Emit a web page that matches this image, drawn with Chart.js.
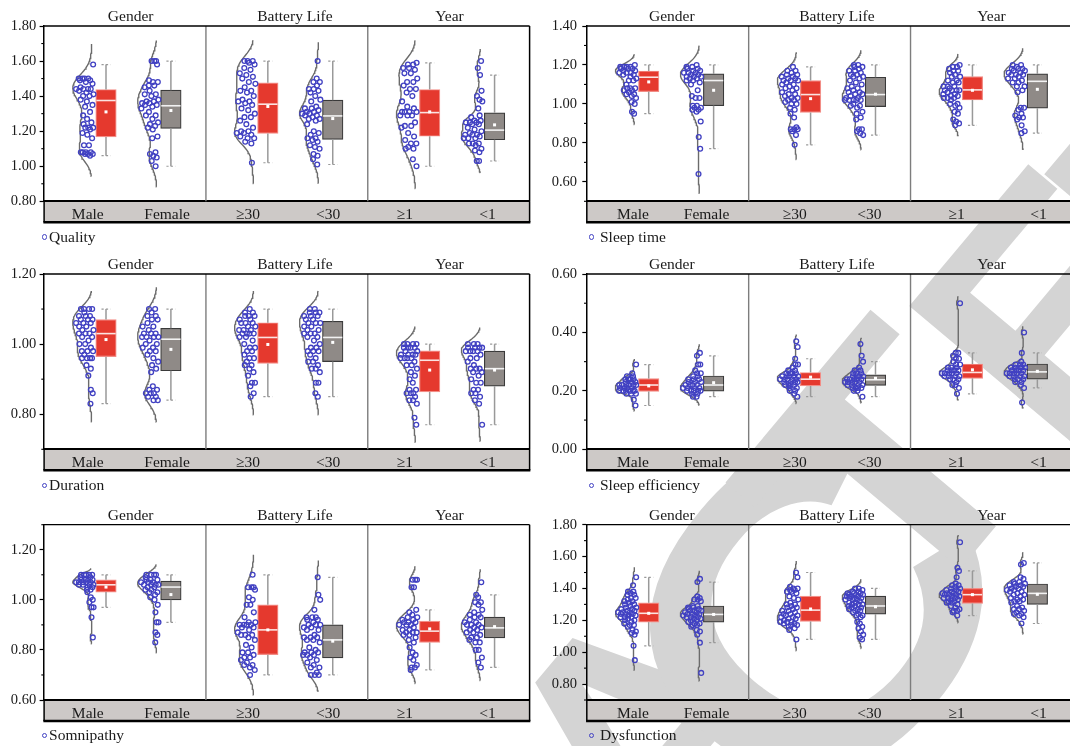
<!DOCTYPE html>
<html><head><meta charset="utf-8">
<script src="https://cdn.jsdelivr.net/npm/chart.js@4.4.0/dist/chart.umd.min.js"></script>
<style>
html,body{margin:0;padding:0;background:#fff;}
body{width:1070px;height:746px;overflow:hidden;position:relative;font-family:'Liberation Serif','Times New Roman',serif;}
canvas{position:absolute;}
.lg{position:absolute;font-size:15.5px;color:#1a1a1a;white-space:nowrap;line-height:18px;height:18px;}
.lg i{display:inline-block;width:3.6px;height:3.6px;border:1.3px solid #4141c2;border-radius:50%;vertical-align:middle;margin-right:2px;position:relative;top:-1px;}
#wm{position:absolute;left:0;top:0;width:1070px;height:746px;overflow:hidden;}
#wm span{position:absolute;font-family:'Liberation Sans','Arial',sans-serif;font-weight:bold;color:#d4d4d4;line-height:1;white-space:nowrap;}
</style></head><body>
<div id="wm"></div>
<script>
// ---------------- DATA ----------------
const GROUPS = ['Gender', 'Battery Life', 'Year'];
const CATEGORIES = ['Male', 'Female', '≥30', '<30', '≥1', '<1'];
const METRICS = ['Quality', 'Sleep time', 'Duration', 'Sleep efficiency', 'Somnipathy', 'Dysfunction'];
const Y_MIN = [0.8, 0.5, 0.7, 0.0, 0.6, 0.7];
const Y_MAX = [1.8, 1.4, 1.2, 0.6, 1.3, 1.8];

const QUALITY_POINTS = [
 [1.58,1.50,1.50,1.50,1.50,1.49,1.49,1.48,1.47,1.45,1.44,1.44,1.44,1.44,1.43,1.42,1.41,1.40,1.40,1.38,1.37,1.35,1.34,1.31,1.29,1.27,1.25,1.24,1.22,1.22,1.22,1.21,1.19,1.18,1.16,1.12,1.12,1.08,1.08,1.08,1.08,1.07,1.07,1.07,1.06],
 [1.60,1.60,1.60,1.58,1.49,1.48,1.48,1.46,1.46,1.45,1.43,1.41,1.41,1.40,1.38,1.37,1.37,1.36,1.36,1.35,1.35,1.34,1.33,1.31,1.29,1.29,1.27,1.25,1.24,1.23,1.22,1.21,1.17,1.16,1.08,1.07,1.06,1.05,1.03,1.00],
 [1.60,1.60,1.60,1.59,1.58,1.56,1.55,1.53,1.52,1.51,1.50,1.48,1.47,1.45,1.43,1.43,1.42,1.40,1.38,1.37,1.37,1.36,1.35,1.33,1.32,1.30,1.28,1.28,1.26,1.24,1.22,1.20,1.20,1.19,1.19,1.18,1.17,1.16,1.16,1.14,1.13,1.02],
 [1.60,1.50,1.48,1.48,1.46,1.44,1.44,1.43,1.42,1.40,1.38,1.37,1.34,1.33,1.33,1.32,1.31,1.31,1.30,1.30,1.29,1.29,1.28,1.27,1.27,1.26,1.24,1.20,1.19,1.18,1.16,1.16,1.15,1.14,1.12,1.11,1.10,1.07,1.06,1.04,1.01],
 [1.59,1.58,1.58,1.56,1.56,1.55,1.53,1.53,1.50,1.48,1.48,1.46,1.44,1.44,1.42,1.40,1.37,1.34,1.33,1.31,1.31,1.31,1.31,1.29,1.29,1.29,1.25,1.23,1.23,1.22,1.19,1.17,1.15,1.13,1.13,1.11,1.10,1.10,1.04,1.00],
 [1.60,1.56,1.52,1.43,1.40,1.38,1.37,1.33,1.29,1.28,1.26,1.26,1.25,1.25,1.25,1.24,1.24,1.22,1.21,1.20,1.19,1.18,1.18,1.18,1.17,1.16,1.16,1.16,1.13,1.13,1.13,1.12,1.10,1.09,1.08,1.03,1.03]
];
// [lower whisker, Q1, median, Q3, upper whisker, mean]
const QUALITY_BOX = [
 [1.06,1.167,1.375,1.438,1.58,1.310],
 [1.00,1.216,1.345,1.434,1.60,1.318],
 [1.02,1.187,1.354,1.476,1.60,1.341],
 [1.01,1.153,1.287,1.377,1.60,1.272],
 [1.00,1.171,1.306,1.438,1.59,1.310],
 [1.03,1.151,1.206,1.305,1.52,1.236]
];

const SLEEP_TIME_POINTS = [
 [1.20,1.19,1.19,1.19,1.19,1.18,1.18,1.18,1.17,1.17,1.16,1.16,1.16,1.15,1.15,1.14,1.13,1.12,1.12,1.10,1.08,1.08,1.08,1.07,1.07,1.06,1.05,1.05,1.04,1.03,1.01,1.00,0.96,0.95],
 [1.20,1.19,1.19,1.18,1.18,1.17,1.17,1.16,1.16,1.16,1.15,1.15,1.14,1.14,1.14,1.13,1.13,1.12,1.12,1.11,1.10,1.07,1.04,1.03,1.03,0.99,0.99,0.98,0.98,0.97,0.97,0.96,0.91,0.83,0.77,0.64],
 [1.19,1.17,1.17,1.16,1.15,1.15,1.14,1.14,1.13,1.13,1.12,1.12,1.12,1.11,1.10,1.10,1.09,1.08,1.08,1.07,1.06,1.05,1.05,1.04,1.03,1.03,1.02,1.02,1.01,1.00,1.00,0.98,0.97,0.95,0.93,0.88,0.87,0.87,0.87,0.86,0.84,0.79],
 [1.20,1.20,1.19,1.19,1.18,1.17,1.17,1.16,1.15,1.15,1.14,1.14,1.13,1.12,1.11,1.10,1.09,1.08,1.08,1.07,1.06,1.06,1.05,1.05,1.04,1.03,1.03,1.02,1.02,1.02,1.02,1.02,1.00,0.99,0.99,0.98,0.96,0.95,0.93,0.92,0.87,0.87,0.86,0.85,0.84],
 [1.20,1.19,1.19,1.18,1.17,1.17,1.16,1.15,1.14,1.14,1.12,1.12,1.11,1.11,1.09,1.09,1.09,1.08,1.07,1.07,1.07,1.07,1.06,1.05,1.05,1.04,1.04,1.03,1.03,1.03,1.02,1.00,1.00,0.99,0.98,0.96,0.95,0.92,0.91,0.90,0.89],
 [1.20,1.20,1.19,1.18,1.18,1.18,1.17,1.17,1.16,1.16,1.15,1.15,1.15,1.14,1.13,1.13,1.12,1.11,1.11,1.09,1.09,1.07,1.06,0.98,0.98,0.97,0.95,0.94,0.93,0.93,0.92,0.89,0.86,0.85]
];
const SLEEP_TIME_BOX = [
 [0.95,1.063,1.137,1.169,1.20,1.113],
 [0.77,0.991,1.120,1.154,1.20,1.070],
 [0.79,0.956,1.048,1.120,1.19,1.027],
 [0.84,0.986,1.048,1.137,1.20,1.050],
 [0.89,1.020,1.072,1.140,1.20,1.070],
 [0.85,0.978,1.116,1.154,1.20,1.075]
];

const DURATION_POINTS = [
 [1.10,1.10,1.10,1.10,1.09,1.08,1.08,1.08,1.07,1.07,1.07,1.06,1.06,1.06,1.05,1.05,1.04,1.04,1.03,1.03,1.03,1.02,1.02,1.01,1.00,1.00,0.99,0.98,0.98,0.98,0.97,0.96,0.96,0.96,0.96,0.94,0.93,0.91,0.87,0.86,0.83],
 [1.10,1.10,1.09,1.08,1.08,1.07,1.07,1.06,1.05,1.05,1.04,1.03,1.03,1.03,1.02,1.02,1.02,1.02,1.01,1.00,1.00,0.99,0.99,0.98,0.98,0.97,0.96,0.95,0.94,0.93,0.92,0.88,0.87,0.87,0.86,0.86,0.86,0.85,0.85,0.84,0.84],
 [1.10,1.09,1.09,1.08,1.08,1.08,1.07,1.07,1.06,1.06,1.06,1.05,1.05,1.04,1.04,1.04,1.03,1.03,1.03,1.03,1.02,1.02,1.01,1.00,0.99,0.99,0.98,0.98,0.97,0.96,0.96,0.95,0.94,0.94,0.93,0.92,0.91,0.89,0.89,0.88,0.86,0.85],
 [1.10,1.10,1.09,1.09,1.09,1.08,1.08,1.08,1.07,1.07,1.06,1.06,1.06,1.05,1.05,1.04,1.04,1.03,1.03,1.03,1.02,1.02,1.01,1.00,0.99,0.99,0.98,0.98,0.98,0.97,0.96,0.95,0.95,0.94,0.93,0.93,0.92,0.89,0.89,0.86,0.85],
 [1.00,1.00,1.00,1.00,0.99,0.99,0.99,0.99,0.98,0.98,0.97,0.97,0.97,0.97,0.96,0.96,0.96,0.96,0.95,0.94,0.94,0.93,0.92,0.91,0.90,0.89,0.87,0.87,0.86,0.86,0.86,0.85,0.84,0.84,0.83,0.79,0.77],
 [1.00,1.00,1.00,0.99,0.99,0.99,0.99,0.98,0.98,0.98,0.98,0.97,0.96,0.96,0.95,0.94,0.93,0.93,0.93,0.92,0.92,0.91,0.90,0.89,0.89,0.87,0.87,0.86,0.86,0.85,0.84,0.83,0.77]
];
const DURATION_BOX = [
 [0.83,0.964,1.030,1.070,1.10,1.013],
 [0.84,0.924,1.014,1.045,1.10,0.985],
 [0.85,0.945,1.019,1.061,1.10,0.999],
 [0.85,0.950,1.019,1.065,1.10,1.005],
 [0.77,0.864,0.954,0.981,1.00,0.926],
 [0.77,0.880,0.930,0.980,1.00,0.926]
];

const SLEEP_EFFICIENCY_POINTS = [
 [0.29,0.26,0.25,0.25,0.24,0.24,0.24,0.24,0.23,0.23,0.23,0.22,0.22,0.22,0.22,0.22,0.22,0.21,0.21,0.21,0.21,0.20,0.20,0.20,0.20,0.20,0.20,0.19,0.19,0.19,0.17,0.15],
 [0.33,0.32,0.29,0.29,0.27,0.26,0.26,0.25,0.25,0.24,0.24,0.24,0.23,0.23,0.23,0.22,0.22,0.22,0.22,0.21,0.21,0.21,0.21,0.20,0.20,0.20,0.20,0.20,0.19,0.19,0.18,0.18],
 [0.37,0.35,0.31,0.29,0.29,0.28,0.27,0.27,0.26,0.26,0.26,0.26,0.25,0.25,0.25,0.25,0.25,0.24,0.24,0.24,0.24,0.24,0.23,0.23,0.23,0.23,0.22,0.22,0.22,0.22,0.21,0.21,0.20,0.20,0.19,0.18],
 [0.36,0.32,0.30,0.28,0.27,0.27,0.26,0.26,0.26,0.25,0.25,0.25,0.25,0.24,0.24,0.24,0.24,0.24,0.23,0.23,0.23,0.23,0.23,0.22,0.22,0.22,0.22,0.21,0.21,0.21,0.21,0.20,0.20,0.18],
 [0.50,0.33,0.33,0.32,0.31,0.31,0.30,0.29,0.29,0.28,0.28,0.28,0.27,0.27,0.27,0.27,0.26,0.26,0.26,0.26,0.26,0.25,0.25,0.25,0.25,0.24,0.24,0.24,0.23,0.22,0.22,0.21,0.19],
 [0.40,0.33,0.30,0.29,0.29,0.29,0.28,0.28,0.28,0.28,0.27,0.27,0.27,0.27,0.26,0.26,0.26,0.26,0.26,0.25,0.25,0.25,0.25,0.24,0.24,0.24,0.23,0.23,0.22,0.21,0.16]
];
const SLEEP_EFFICIENCY_BOX = [
 [0.15,0.198,0.220,0.242,0.29,0.217],
 [0.18,0.199,0.220,0.251,0.32,0.228],
 [0.18,0.217,0.240,0.263,0.31,0.247],
 [0.18,0.219,0.238,0.255,0.30,0.243],
 [0.19,0.243,0.263,0.292,0.33,0.272],
 [0.21,0.240,0.265,0.292,0.33,0.267]
];

const SOMNIPATHY_POINTS = [
 [1.10,1.10,1.10,1.10,1.10,1.09,1.09,1.08,1.08,1.08,1.08,1.07,1.07,1.07,1.07,1.07,1.06,1.06,1.06,1.06,1.05,1.05,1.04,1.04,1.03,1.01,1.00,0.99,0.97,0.97,0.93,0.85],
 [1.10,1.10,1.10,1.10,1.09,1.08,1.08,1.08,1.07,1.07,1.07,1.06,1.06,1.06,1.06,1.05,1.05,1.04,1.04,1.03,1.03,1.02,1.01,1.00,0.98,0.95,0.91,0.91,0.87,0.86,0.83],
 [1.10,1.05,1.05,1.05,1.04,1.01,1.00,0.98,0.98,0.95,0.93,0.91,0.91,0.90,0.90,0.90,0.90,0.89,0.89,0.88,0.87,0.86,0.86,0.86,0.85,0.84,0.82,0.81,0.79,0.79,0.78,0.77,0.77,0.76,0.75,0.74,0.74,0.73,0.72,0.70],
 [1.09,1.02,1.00,0.96,0.93,0.93,0.93,0.92,0.92,0.91,0.90,0.90,0.90,0.89,0.89,0.88,0.88,0.86,0.85,0.85,0.85,0.84,0.84,0.83,0.81,0.80,0.79,0.79,0.79,0.78,0.78,0.78,0.77,0.76,0.75,0.74,0.73,0.73,0.71,0.70,0.70,0.70],
 [1.08,1.08,1.08,1.05,1.05,0.96,0.95,0.94,0.93,0.93,0.92,0.92,0.91,0.91,0.91,0.90,0.90,0.90,0.89,0.88,0.88,0.87,0.87,0.87,0.86,0.86,0.85,0.84,0.83,0.81,0.79,0.78,0.77,0.76,0.74,0.73,0.73,0.72],
 [1.07,1.02,1.01,0.99,0.99,0.98,0.96,0.95,0.94,0.94,0.93,0.93,0.92,0.91,0.91,0.90,0.90,0.90,0.89,0.89,0.88,0.88,0.87,0.87,0.86,0.85,0.85,0.84,0.83,0.83,0.80,0.80,0.77,0.75,0.73]
];
const SOMNIPATHY_BOX = [
 [0.97,1.031,1.060,1.080,1.10,1.051],
 [0.91,1.000,1.051,1.075,1.10,1.021],
 [0.70,0.781,0.880,0.980,1.10,0.880],
 [0.70,0.768,0.840,0.900,1.09,0.835],
 [0.72,0.830,0.875,0.915,0.96,0.884],
 [0.73,0.848,0.888,0.931,1.02,0.893]
];

const DYSFUNCTION_POINTS = [
 [1.47,1.42,1.38,1.38,1.37,1.36,1.36,1.34,1.34,1.33,1.32,1.32,1.31,1.30,1.30,1.29,1.28,1.28,1.27,1.27,1.26,1.26,1.25,1.25,1.25,1.24,1.24,1.24,1.23,1.23,1.22,1.22,1.22,1.21,1.20,1.20,1.19,1.18,1.17,1.17,1.16,1.14,1.13,1.12,1.11,1.04,0.95],
 [1.46,1.44,1.35,1.34,1.33,1.33,1.32,1.29,1.29,1.28,1.28,1.27,1.27,1.26,1.26,1.26,1.25,1.25,1.24,1.24,1.24,1.23,1.23,1.22,1.22,1.22,1.21,1.21,1.20,1.20,1.19,1.18,1.18,1.17,1.17,1.16,1.14,1.13,1.11,1.06,0.87],
 [1.50,1.47,1.41,1.40,1.40,1.39,1.39,1.38,1.38,1.37,1.35,1.34,1.33,1.31,1.30,1.30,1.29,1.28,1.28,1.27,1.26,1.26,1.25,1.24,1.24,1.23,1.23,1.22,1.22,1.21,1.21,1.20,1.19,1.19,1.19,1.18,1.18,1.17,1.17,1.16,1.15,1.14,1.08],
 [1.40,1.40,1.39,1.38,1.38,1.37,1.37,1.37,1.36,1.36,1.36,1.35,1.35,1.35,1.34,1.34,1.34,1.33,1.33,1.33,1.32,1.31,1.31,1.30,1.30,1.30,1.29,1.29,1.28,1.28,1.27,1.27,1.26,1.26,1.25,1.24,1.23,1.23,1.22,1.19,1.18,1.16,1.15,1.13,1.11,1.09,1.08],
 [1.69,1.53,1.51,1.47,1.43,1.42,1.42,1.41,1.40,1.40,1.39,1.39,1.38,1.38,1.37,1.37,1.37,1.36,1.36,1.36,1.35,1.35,1.34,1.34,1.34,1.33,1.33,1.32,1.32,1.31,1.31,1.30,1.29,1.28,1.27,1.26,1.26,1.25,1.23],
 [1.56,1.55,1.47,1.46,1.44,1.44,1.43,1.43,1.42,1.42,1.41,1.41,1.40,1.40,1.39,1.39,1.38,1.38,1.37,1.36,1.36,1.35,1.34,1.33,1.33,1.32,1.32,1.31,1.29,1.28,1.27,1.27,1.26,1.25,1.24,1.24,1.23,1.22,1.18]
];
const DYSFUNCTION_BOX = [
 [1.04,1.189,1.244,1.310,1.47,1.244],
 [1.06,1.189,1.237,1.290,1.44,1.237],
 [1.08,1.193,1.264,1.352,1.50,1.271],
 [1.08,1.239,1.290,1.352,1.40,1.285],
 [1.23,1.306,1.361,1.400,1.51,1.361],
 [1.18,1.300,1.369,1.428,1.56,1.363]
];

const POINTS = [QUALITY_POINTS, SLEEP_TIME_POINTS, DURATION_POINTS, SLEEP_EFFICIENCY_POINTS, SOMNIPATHY_POINTS, DYSFUNCTION_POINTS];
const BOXES = [QUALITY_BOX, SLEEP_TIME_BOX, DURATION_BOX, SLEEP_EFFICIENCY_BOX, SOMNIPATHY_BOX, DYSFUNCTION_BOX];

// ---------------- LAYOUT (positions / styles) ----------------
const BOX_X = [0.765, 1.567, 2.765, 3.567, 4.765, 5.567];   // x-scale units
const VIOLIN_SHIFT = -0.175, VIOLIN_W = 0.235, BOX_W_PX = 20.5;
const COLS = [
  {left:0, width:540, yw:44.1, padR:10.4, tickPad:3.4, labelPos:[0.54,1.52,2.52,3.51,4.46,5.48], headerPos:[1.07,3.10,5.01], lgX:41.5},
  {left:535, width:545, yw:51.8, padR:7.6, tickPad:5.2, labelPos:[0.57,1.48,2.57,3.49,4.57,5.58], headerPos:[1.05,3.09,5.00], lgX:588.5}
];
const ROW_TOP = [26, 274, 524.7], ROW_BOTTOM = [201.3, 449.3, 700], LEGEND_Y = [236.7, 485, 735];
const RED = '#e5392e', RED_EDGE = '#f28d86', GREY = '#8f8a87', GREY_EDGE = '#3a3a3a';
const DOT = '#4141c2';

// background watermark: the word RETRACTED, letters placed along a diagonal (only part falls inside the picture)
const WM_LETTERS = [
  ['A', 643, 735, 342, 1.0], ['C', 810, 615, 430, 1.15], ['T', 887, 471, 342, 1.12], ['E', 1057, 311, 342, 1.0], ['D', 1198, 172, 342, 1.0]
];
const WM_ANGLE = -50;
(function(){
  const wm = document.getElementById('wm');
  WM_LETTERS.forEach(([ch,x,y,size,sx])=>{
    const s = document.createElement('span');
    s.textContent = ch;
    s.style.left = x+'px'; s.style.top = y+'px'; s.style.fontSize = size+'px';
    s.style.transform = `translate(-50%,-50%) rotate(${WM_ANGLE}deg) scaleX(${sx})`;
    wm.appendChild(s);
  });
})();

Chart.defaults.font.family = "'Liberation Serif','Times New Roman',serif";

function makeKde(vals){
  const n = vals.length;
  const mean = vals.reduce((a,b)=>a+b,0)/n;
  const sd = Math.sqrt(vals.reduce((a,b)=>a+(b-mean)*(b-mean),0)/(n-1));
  const s = [...vals].sort((a,b)=>a-b);
  const q = p => { const i=(n-1)*p, lo=Math.floor(i), hi=Math.ceil(i); return s[lo]+(s[hi]-s[lo])*(i-lo); };
  let sig = Math.min(sd, (q(0.75)-q(0.25))/1.34); if (!(sig>0)) sig = sd;
  const h = 0.8*0.9*sig*Math.pow(n,-0.2);
  const f = y => vals.reduce((a,v)=>a+Math.exp(-0.5*((y-v)/h)*((y-v)/h)),0);
  const lo = s[0]-2.2*h, hi = s[n-1]+2.2*h, N = 100;
  const ys=[], ds=[]; let mx=0;
  for (let k=0;k<=N;k++){ const y=lo+(hi-lo)*k/N, d=f(y); ys.push(y); ds.push(d); if(d>mx) mx=d; }
  return {ys, ds:ds.map(d=>d/mx), at:y=>f(y)/mx};
}

const line = (ctx,x1,y1,x2,y2)=>{ctx.beginPath();ctx.moveTo(x1,y1);ctx.lineTo(x2,y2);ctx.stroke();};

const panelPlugin = {
  id:'panel',
  beforeDraw(chart){
    const {ctx, chartArea:a} = chart;
    ctx.save();
    ctx.fillStyle = '#cdc9c7';
    ctx.fillRect(a.left, a.bottom, a.right-a.left, 21);
    ctx.strokeStyle = '#000';
    ctx.lineWidth = 1.5;
    line(ctx, a.left, a.bottom, a.left, a.bottom+21);
    line(ctx, a.right, a.bottom, a.right, a.bottom+21);
    ctx.lineWidth = 2.6;
    line(ctx, a.left-0.75, a.bottom+21, a.right+0.75, a.bottom+21);
    ctx.restore();
  },
  beforeDatasetsDraw(chart){
    const {ctx, chartArea:a, scales:{x}} = chart;
    ctx.save(); ctx.strokeStyle = '#7d7d7d'; ctx.lineWidth = 1.4;
    [2,4].forEach(v=>{ const px = x.getPixelForValue(v); line(ctx, px, a.top, px, a.bottom); });
    ctx.restore();
  },
  afterDatasetsDraw(chart, args, opts){
    const {ctx, scales:{x,y}} = chart;
    const boxes = BOXES[opts.metric];
    ctx.save();
    boxes.forEach((b,i)=>{
      const cx = x.getPixelForValue(BOX_X[i]);
      const [lo,q1,med,q3,hi,mean] = b;
      ctx.strokeStyle = '#999'; ctx.lineWidth = 1.5; ctx.setLineDash([]);
      line(ctx, cx, y.getPixelForValue(q3), cx, y.getPixelForValue(hi));
      line(ctx, cx, y.getPixelForValue(q1), cx, y.getPixelForValue(lo));
      ctx.lineWidth = 1.2; ctx.setLineDash([2.2,2.2]);
      line(ctx, cx-4.5, y.getPixelForValue(hi), cx+4.5, y.getPixelForValue(hi));
      line(ctx, cx-4.5, y.getPixelForValue(lo), cx+4.5, y.getPixelForValue(lo));
      ctx.setLineDash([]);
      ctx.strokeStyle = i%2===0 ? '#fbe3e1' : '#f2f2f2'; ctx.lineWidth = 1.6;
      line(ctx, cx-BOX_W_PX/2+0.6, y.getPixelForValue(med), cx+BOX_W_PX/2-0.6, y.getPixelForValue(med));
      ctx.fillStyle = '#fff';
      ctx.fillRect(cx-1.5, y.getPixelForValue(mean)-1.5, 3, 3);
    });
    ctx.restore();
  },
  afterDraw(chart){
    const {ctx, chartArea:a, scales:{y}} = chart;
    ctx.save(); ctx.strokeStyle = '#000';
    ctx.lineWidth = 1.3;
    line(ctx, a.left-0.75, a.top, a.right, a.top);
    ctx.lineWidth = 1.5;
    line(ctx, a.right, a.top, a.right, a.bottom);
    ctx.lineWidth = 1.1;
    y.ticks.forEach(t=>{
      if (Math.round(t.value*10)%2!==0){ const py=y.getPixelForValue(t.value); line(ctx, a.left-2.8, py, a.left, py); }
    });
    ctx.restore();
  }
};

function makePanel(m){
  const col = m%2, row = Math.floor(m/2), C = COLS[col];
  const top = Math.floor(ROW_TOP[row]) - 26;
  const topH = ROW_TOP[row] - top;
  const height = Math.ceil(ROW_BOTTOM[row] - top + 46);
  const botH = top + height - ROW_BOTTOM[row];
  const cv = document.createElement('canvas');
  cv.width = C.width; cv.height = height;
  cv.style.left = C.left+'px'; cv.style.top = top+'px';
  cv.style.width = C.width+'px'; cv.style.height = height+'px';
  document.body.appendChild(cv);

  const pts = POINTS[m], boxes = BOXES[m];
  const scatter = [], violins = [];
  pts.forEach((vals,c)=>{
    const k = makeKde(vals);
    const base = BOX_X[c] + VIOLIN_SHIFT;
    violins.push({type:'line', label:'violin', data:k.ys.map((yv,j)=>({x:base - VIOLIN_W*k.ds[j], y:yv})),
      borderColor:'#6b6b6b', borderWidth:1.4, pointRadius:0, fill:false, tension:0, order:3});
    vals.forEach((v,j)=>{
      const r = (j*0.6180339887 + c*0.2357 + 0.13) % 1;
      const w = 0.9*VIOLIN_W*k.at(v);
      scatter.push({x: base + 0.025 - r*(w + 0.025), y: v});
    });
  });
  const boxData = boxes.map((b,i)=>({x:BOX_X[i], y:[b[1], b[3]]}));

  new Chart(cv, {
    type:'scatter',
    data:{datasets:[
      {type:'scatter', label:METRICS[m], data:scatter, pointRadius:2.4, pointBorderWidth:1.3,
       pointBorderColor:DOT, borderColor:DOT, pointBackgroundColor:'rgba(255,255,255,0)', backgroundColor:'rgba(255,255,255,0)', order:0},
      {type:'bar', label:'box', data:boxData, barThickness:BOX_W_PX, borderSkipped:false, borderWidth:1.2,
       backgroundColor:boxes.map((b,i)=>i%2===0?RED:GREY), borderColor:boxes.map((b,i)=>i%2===0?RED_EDGE:GREY_EDGE), order:1},
      ...violins
    ]},
    options:{
      responsive:false, animation:false, devicePixelRatio:1, events:[],
      layout:{padding:{left:0, right:C.padR, top:0, bottom:0}},
      plugins:{legend:{display:false}, tooltip:{enabled:false}, panel:{metric:m}},
      scales:{
        x:{type:'linear', position:'bottom', min:0, max:6, offset:false,
           grid:{display:false}, border:{display:true, color:'#000', width:2},
           afterBuildTicks:s=>{ s.ticks = C.labelPos.map(v=>({value:v})); },
           ticks:{autoSkip:false, maxRotation:0, minRotation:0, padding:-3.5, color:'#1a1a1a', font:{size:15.5},
                  callback:(v,i)=>CATEGORIES[i]},
           afterFit:s=>{ s.height = botH; }},
        x2:{type:'linear', position:'top', min:0, max:6, offset:false,
           grid:{display:false}, border:{display:false},
           afterBuildTicks:s=>{ s.ticks = C.headerPos.map(v=>({value:v})); },
           ticks:{autoSkip:false, maxRotation:0, minRotation:0, padding:-8.3, color:'#1a1a1a', font:{size:15.5},
                  callback:(v,i)=>GROUPS[i]},
           afterFit:s=>{ s.height = topH; }},
        y:{type:'linear', position:'left', min:Y_MIN[m], max:Y_MAX[m],
           afterBuildTicks:s=>{ const t=[]; for(let k=Math.round(Y_MIN[m]*10);k<=Math.round(Y_MAX[m]*10);k++) t.push({value:k/10}); s.ticks=t; },
           ticks:{autoSkip:false, padding:C.tickPad, color:'#1a1a1a', font:{size:14.5},
                  callback:v=>{ const k=Math.round(v*10); return k%2===0 ? (k/10).toFixed(2) : ''; }},
           grid:{display:true, drawOnChartArea:false, drawTicks:true, tickLength:4.5, tickWidth:1.2,
                 tickColor:ctx=>(Math.round(ctx.tick.value*10)%2===0 ? '#000' : 'rgba(0,0,0,0)')},
           border:{display:true, color:'#000', width:1.5},
           afterFit:s=>{ s.width = C.yw; }}
      }
    },
    plugins:[panelPlugin]
  });

  const lg = document.createElement('div');
  lg.className = 'lg';
  lg.style.left = C.lgX+'px'; lg.style.top = (LEGEND_Y[row]-9)+'px';
  lg.innerHTML = '<i></i>' + (col===1?' ':'') ;
  lg.appendChild(document.createTextNode(METRICS[m]));
  document.body.appendChild(lg);
}

for (let m=0;m<6;m++) makePanel(m);
</script>
</body></html>
